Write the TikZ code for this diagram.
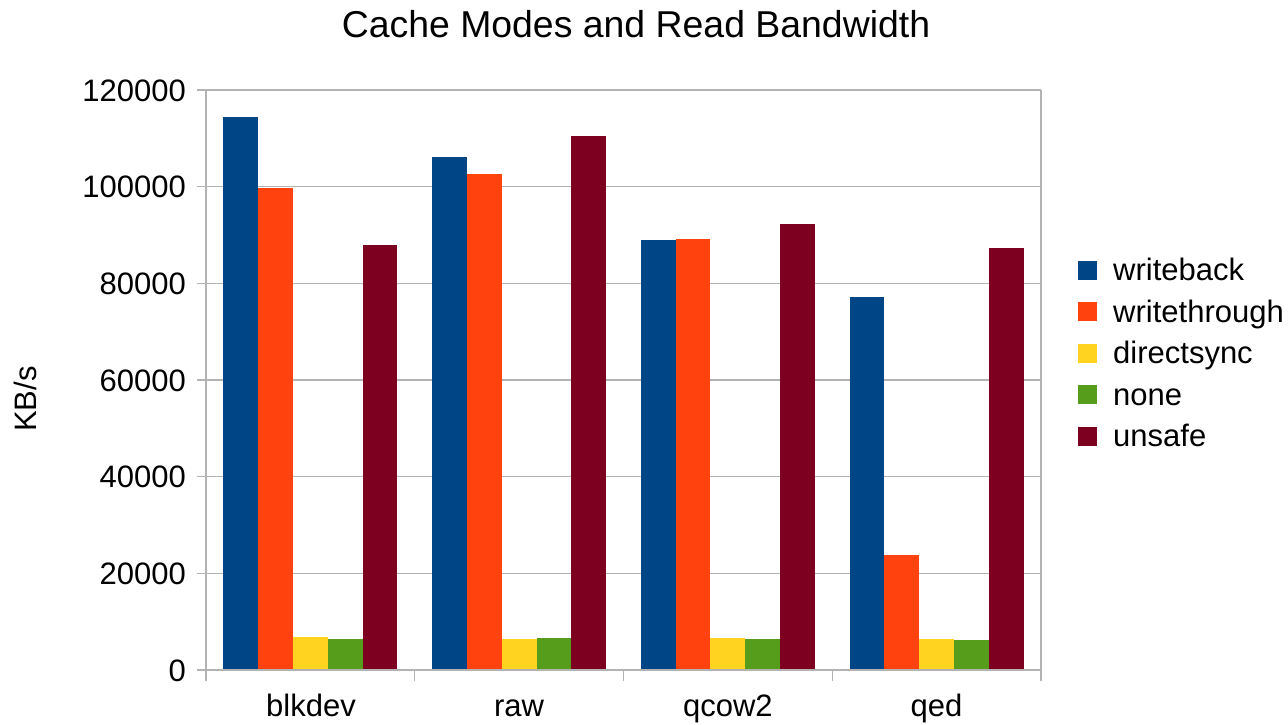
\documentclass[tikz,border=0pt]{standalone}
\usepackage{fontspec}
\setmainfont{Liberation Sans}
\definecolor{cwb}{HTML}{004586}
\definecolor{cwt}{HTML}{FF420E}
\definecolor{cds}{HTML}{FFD320}
\definecolor{cno}{HTML}{579D1C}
\definecolor{cun}{HTML}{7E0021}
\definecolor{gridgray}{HTML}{B3B3B3}
\tikzset{
  gridline/.style={draw=gridgray, line width=1.2pt},
  axisline/.style={draw=gridgray, line width=1.2pt},
  ticklabel/.style={font=\fontsize{31}{37}\selectfont, inner sep=0pt, anchor=base east},
  catlabel/.style={font=\fontsize{31}{37}\selectfont, inner sep=0pt, anchor=base},
  legendtext/.style={font=\fontsize{31}{37}\selectfont, inner sep=0pt, anchor=base west},
  titletext/.style={font=\fontsize{37.4}{44}\selectfont, inner sep=0pt, anchor=base},
}
\begin{document}
\begin{tikzpicture}[x=1pt,y=-1pt]
\useasboundingbox[fill=white] (0,0) rectangle (1288,724);
% gridlines
\foreach \v in {20,40,60,80,100,120} {
  \draw[gridline] (206,{670-\v*4.83333}) -- (1041,{670-\v*4.83333});
}
% right border
\draw[axisline] (1041,90) -- (1041,681);
% bars
\def\bw{34.79}
\foreach \g/\a/\b/\c/\d/\e in {0/114.4/99.8/6.9/6.4/87.9, 1/106.1/102.6/6.4/6.7/110.5, 2/89.0/89.2/6.7/6.4/92.3, 3/77.2/23.8/6.4/6.2/87.3} {
  \pgfmathsetmacro\xs{206+\g*208.75+17.4}
  \fill[cwb] (\xs,670) rectangle ({\xs+\bw},{670-\a*4.83333});
  \fill[cwt] ({\xs+\bw},670) rectangle ({\xs+2*\bw},{670-\b*4.83333});
  \fill[cds] ({\xs+2*\bw},670) rectangle ({\xs+3*\bw},{670-\c*4.83333});
  \fill[cno] ({\xs+3*\bw},670) rectangle ({\xs+4*\bw},{670-\d*4.83333});
  \fill[cun] ({\xs+4*\bw},670) rectangle ({\xs+5*\bw},{670-\e*4.83333});
}
% axes
\draw[axisline] (206,90) -- (206,681);
\draw[axisline] (197,670) -- (1041,670);
\foreach \v in {20,40,60,80,100,120} {
  \draw[axisline] (197,{670-\v*4.83333}) -- (206,{670-\v*4.83333});
}
\foreach \xx in {414.75,623.5,832.25} {
  \draw[axisline] (\xx,670) -- (\xx,681);
}
% tick labels
\node[ticklabel] (t0) at (186,681) {0};
\node[ticklabel] (t1) at (186,{681-20*4.83333}) {20000};
\node[ticklabel] (t2) at (186,{681-40*4.83333}) {40000};
\node[ticklabel] (t3) at (186,{681-60*4.83333}) {60000};
\node[ticklabel] (t4) at (186,{681-80*4.83333}) {80000};
\node[ticklabel] (t5) at (186,{681-100*4.83333}) {100000};
\node[ticklabel] (t6) at (186,{681-120*4.83333}) {120000};
% category labels
\node[catlabel] (c1) at (311,716) {blkdev};
\node[catlabel] (c2) at (519.1,716) {raw};
\node[catlabel] (c3) at (727.9,716) {qcow2};
\node[catlabel] (c4) at (936.6,716) {qed};
% axis title
\node[catlabel, rotate=90] (ylab) at (36.7,399) {KB/s};
% title
\node[titletext] (title) at (636,37.5) {Cache Modes and Read Bandwidth};
% legend
\foreach \i/\col/\txt in {0/cwb/writeback, 1/cwt/writethrough, 2/cds/directsync, 3/cno/none, 4/cun/unsafe} {
  \pgfmathsetmacro\yc{270+\i*41.5}
  \fill[\col] (1078.3,{\yc-9.5}) rectangle (1097.3,{\yc+9.5});
  \node[legendtext] (leg\i) at (1113,{\yc+10.5}) {\txt};
}
\end{tikzpicture}
\end{document}
